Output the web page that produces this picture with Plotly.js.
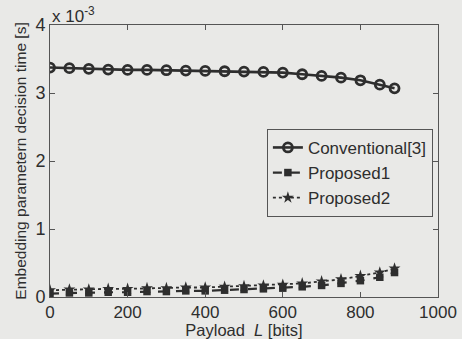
<!DOCTYPE html>
<html>
<head>
<meta charset="utf-8">
<script src="https://cdn.plot.ly/plotly-3.0.1.min.js"></script>
<style>html,body{margin:0;padding:0;background:#e9e9e7;}#chart{width:462px;height:339px;}</style>
</head>
<body>
<div id="chart"></div>
<script>
const payload = [0,50,100,150,200,250,300,350,400,450,500,550,600,650,700,750,800,850,888];
const conventional = [3.374,3.365,3.355,3.344,3.340,3.340,3.335,3.330,3.325,3.320,3.315,3.310,3.300,3.276,3.251,3.226,3.187,3.122,3.069];
const proposed1 = [0.05,0.06,0.06,0.07,0.07,0.08,0.08,0.09,0.09,0.10,0.11,0.12,0.13,0.15,0.17,0.20,0.24,0.29,0.36];
const proposed2 = [0.10,0.11,0.11,0.12,0.12,0.13,0.13,0.14,0.14,0.15,0.16,0.17,0.18,0.20,0.23,0.26,0.31,0.36,0.42];
const xTicks = [0,200,400,600,800,1000];
const yTicks = [0,1,2,3,4];

const ink = '#2e2e2e';
const traces = [
  {x: payload, y: conventional, name: 'Conventional[3]', mode: 'lines+markers',
   line: {color: ink, width: 2.6, dash: 'solid'},
   marker: {symbol: 'circle-open', size: 9, color: ink, line: {width: 2.8, color: ink}}},
  {x: payload, y: proposed1, name: 'Proposed1', mode: 'lines+markers',
   line: {color: ink, width: 2.2, dash: 'dash'},
   marker: {symbol: 'square', size: 7.5, color: ink}},
  {x: payload, y: proposed2, name: 'Proposed2', mode: 'lines+markers',
   line: {color: ink, width: 1.8, dash: 'dot'},
   marker: {symbol: 'star', size: 9, color: ink}}
];

const layout = {
  width: 462, height: 339,
  margin: {l: 50, r: 24, t: 25, b: 42},
  paper_bgcolor: '#e9e9e7', plot_bgcolor: '#e9e9e7',
  font: {family: 'Liberation Sans, Arial, sans-serif', color: ink, size: 16},
  showlegend: true,
  legend: {x: 0.559, y: 0.618, xanchor: 'left', yanchor: 'top',
    bgcolor: 'rgba(0,0,0,0)', bordercolor: '#555', borderwidth: 1,
    font: {size: 17, color: ink}, tracegroupgap: 0},
  xaxis: {range: [0, 1000], tickvals: xTicks, ticktext: xTicks.map(String),
    ticks: 'inside', ticklen: 5, tickcolor: '#555', mirror: 'ticks',
    showline: true, linecolor: '#555', linewidth: 1, showgrid: false, zeroline: false,
    tickfont: {size: 17}, title: {text: 'Payload  <i>L</i> [bits]', font: {size: 16.5}, standoff: 7}},
  yaxis: {range: [0, 4], tickvals: yTicks, ticktext: yTicks.map(String),
    ticks: 'inside', ticklen: 5, tickcolor: '#555', mirror: 'ticks',
    showline: true, linecolor: '#555', linewidth: 1, showgrid: false, zeroline: false,
    tickfont: {size: 18}, title: {text: 'Embedding parametern decision time [s]', font: {size: 15.5}, standoff: 4}},
  annotations: [{xref: 'paper', yref: 'paper', x: 0, y: 1, xanchor: 'left', yanchor: 'bottom',
    text: 'x 10<sup>-3</sup>', showarrow: false, font: {size: 17, color: ink}, yshift: -3}]
};
Plotly.newPlot('chart', traces, layout, {displayModeBar: false, staticPlot: true});
</script>
</body>
</html>
